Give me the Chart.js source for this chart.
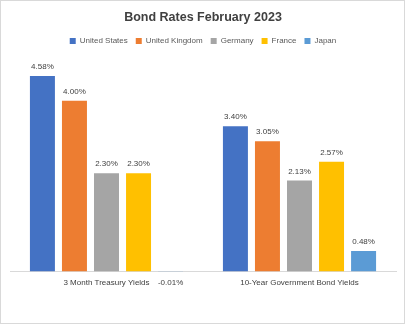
<!DOCTYPE html>
<html>
<head>
<meta charset="utf-8">
<script src="https://cdn.jsdelivr.net/npm/chart.js@4/dist/chart.umd.min.js"></script>
<style>
  html, body { margin: 0; padding: 0; background: #fff; }
  #wrap { width: 403px; height: 322px; border: 1px solid #d9d9d9; position: relative; }
</style>
</head>
<body>
<div id="wrap"><canvas id="grafico" width="403" height="322"></canvas></div>
<script>
const categories = ['3 Month Treasury Yields', '10-Year Government Bond Yields'];
const countries = ['United States', 'United Kingdom', 'Germany', 'France', 'Japan'];
const unitedStates = [4.58, 3.40];
const unitedKingdom = [4.00, 3.05];
const germany = [2.30, 2.13];
const france = [2.30, 2.57];
const japan = [-0.01, 0.48];
const colors = ['#4472C4', '#ED7D31', '#A5A5A5', '#FFC000', '#5B9BD5'];

const series = [unitedStates, unitedKingdom, germany, france, japan];
const fonte = '"Liberation Sans", Arial, sans-serif';

// escreve o valor em cima de cada barra
const valueLabels = {
    id: 'valueLabels',
    afterDatasetsDraw(chart) {
        const ctx = chart.ctx;
        const base = chart.scales.y.getPixelForValue(0);
        ctx.save();
        ctx.font = '8px ' + fonte;
        ctx.fillStyle = '#404040';
        ctx.textAlign = 'center';
        ctx.textBaseline = 'middle';
        chart.data.datasets.forEach((ds, i) => {
            chart.getDatasetMeta(i).data.forEach((bar, j) => {
                const v = ds.data[j];
                const y = v >= 0 ? bar.y - 9 : base + 11;
                ctx.fillText(v.toFixed(2) + '%', bar.x, y);
            });
        });
        ctx.restore();
    }
};

new Chart(document.getElementById('grafico'), {
    type: 'bar',
    data: {
        labels: categories,
        datasets: countries.map((name, i) => ({
            label: name,
            data: series[i],
            backgroundColor: colors[i],
            categoryPercentage: 0.83,
            barPercentage: 0.78
        }))
    },
    options: {
        responsive: false,
        animation: false,
        layout: { padding: { left: 9, right: 8, top: 4, bottom: 28 } },
        plugins: {
            title: {
                display: true,
                text: 'Bond Rates February 2023',
                color: '#404040',
                font: { family: fonte, size: 12.5, weight: 'bold' },
                padding: { top: 5, bottom: 4 }
            },
            legend: {
                labels: {
                    boxWidth: 6,
                    boxHeight: 6,
                    color: '#595959',
                    padding: 8,
                    font: { family: fonte, size: 8 }
                }
            },
            tooltip: { enabled: false }
        },
        scales: {
            x: {
                grid: { display: false, drawTicks: false },
                border: { color: '#d9d9d9' },
                ticks: {
                    color: '#404040',
                    padding: 7,
                    font: { family: fonte, size: 8 }
                }
            },
            y: {
                display: false,
                min: 0,
                max: 5.07
            }
        }
    },
    plugins: [valueLabels]
});
</script>
</body>
</html>
